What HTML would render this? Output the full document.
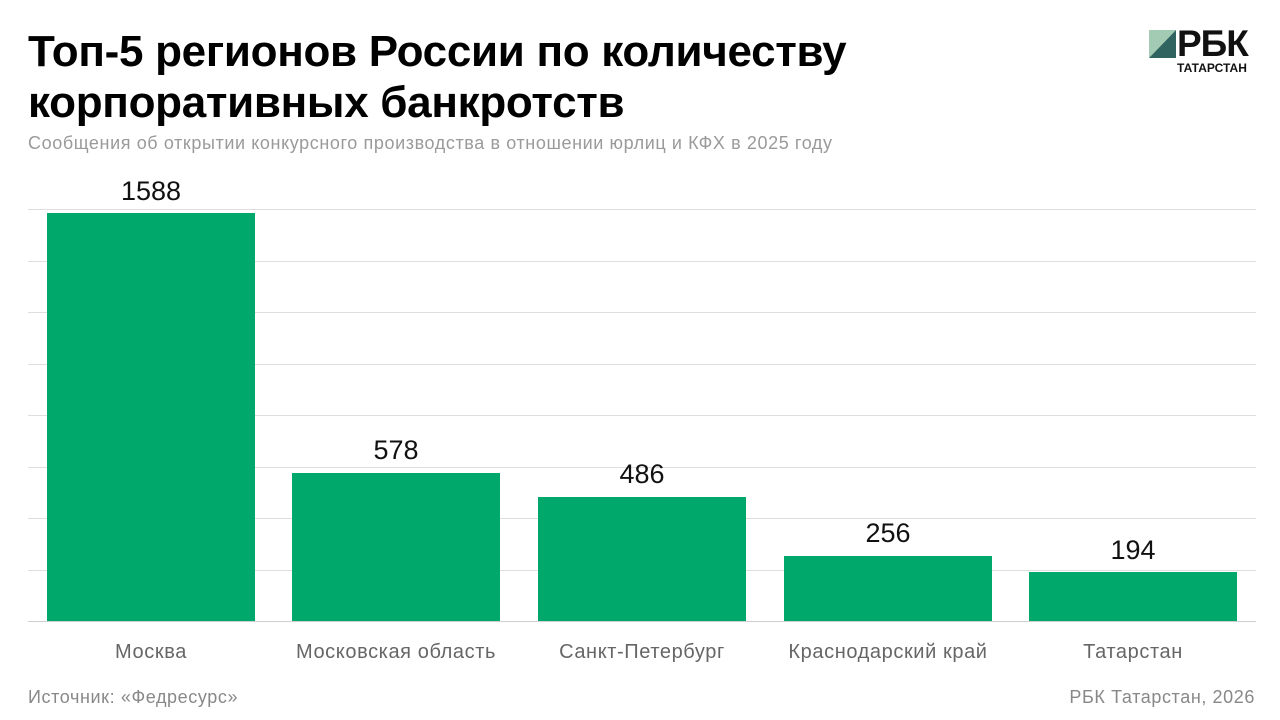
<!DOCTYPE html>
<html><head><meta charset="utf-8"><style>
body{margin:0;width:1280px;height:720px;background:#fff;font-family:"Liberation Sans",sans-serif;position:relative;overflow:hidden}
.t{position:absolute;left:28px;top:26px;font-size:44px;font-weight:bold;line-height:51px;letter-spacing:-0.3px;color:#000;white-space:nowrap}
.s{position:absolute;left:28px;top:133px;font-size:18px;color:#9a9a9a;white-space:nowrap;letter-spacing:0.6px}
.g{position:absolute;left:28px;width:1228px;height:1px;background:#dedede}
.b{position:absolute;width:208px;background:#00a86b}
.v{position:absolute;width:208px;text-align:center;font-size:27px;color:#111}
.l{position:absolute;width:246px;text-align:center;font-size:20px;color:#666;top:641px;letter-spacing:0.6px}
.f{position:absolute;top:687px;font-size:18px;color:#888;letter-spacing:0.6px}
</style></head><body>
<div class="t">Топ-5 регионов России по количеству<br>корпоративных банкротств</div>
<div class="s">Сообщения об открытии конкурсного производства в отношении юрлиц и КФХ в 2025 году</div>
<div class="g" style="top:209px"></div><div class="g" style="top:261px"></div><div class="g" style="top:312px"></div><div class="g" style="top:364px"></div><div class="g" style="top:415px"></div><div class="g" style="top:467px"></div><div class="g" style="top:518px"></div><div class="g" style="top:570px"></div><div class="g" style="top:621px;background:#cfcfcf"></div>
<div class="b" style="left:47px;top:213px;height:408px"></div>
<div class="b" style="left:292px;top:473px;height:148px"></div>
<div class="b" style="left:538px;top:497px;height:124px"></div>
<div class="b" style="left:784px;top:556px;height:65px"></div>
<div class="b" style="left:1029px;top:572px;height:49px"></div>
<div class="v" style="left:47px;top:176px">1588</div>
<div class="v" style="left:292px;top:435px">578</div>
<div class="v" style="left:538px;top:459px">486</div>
<div class="v" style="left:784px;top:518px">256</div>
<div class="v" style="left:1029px;top:535px">194</div>
<div class="l" style="left:28px">Москва</div>
<div class="l" style="left:273px">Московская область</div>
<div class="l" style="left:519px">Санкт-Петербург</div>
<div class="l" style="left:765px">Краснодарский край</div>
<div class="l" style="left:1010px">Татарстан</div>
<div class="f" style="left:28px">Источник: «Федресурс»</div>
<div class="f" style="right:25px">РБК Татарстан, 2026</div>
<svg style="position:absolute;left:1149px;top:30px" width="27" height="28"><polygon points="0,0 27,0 0,28" fill="#a3cbb3"/><polygon points="27,0 27,28 0,28" fill="#2f6460"/></svg>
<div style="position:absolute;left:1177px;top:23px;font-size:37px;font-weight:bold;letter-spacing:-1px;color:#111">РБК</div>
<div style="position:absolute;left:1177px;top:61px;font-size:12px;font-weight:bold;color:#111">ТАТАРСТАН</div>
</body></html>
